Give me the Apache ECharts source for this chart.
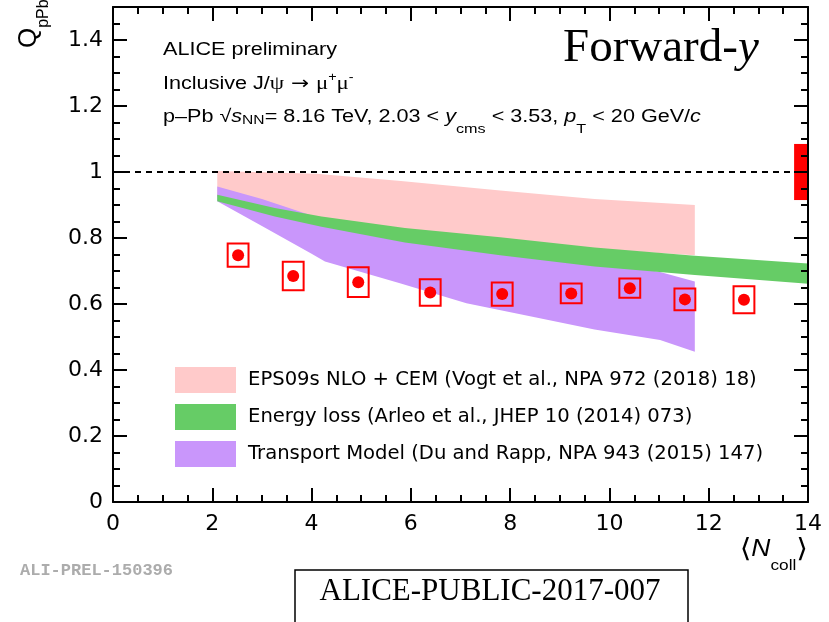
<!DOCTYPE html>
<html><head><meta charset="utf-8">
<script src="https://cdn.jsdelivr.net/npm/echarts@6/dist/echarts.min.js"></script>
<style>html,body{margin:0;padding:0;background:#fff}#c{width:829px;height:622px}</style>
</head><body><div id="c"></div>
<script>
// ---------- data ----------
const xTicks = [0, 2, 4, 6, 8, 10, 12, 14];
const yTicks = [0, 0.2, 0.4, 0.6, 0.8, 1, 1.2, 1.4];
const yMax = 1.5;

// ALICE data points
const ncoll  = [2.52, 3.63, 4.94, 6.39, 7.84, 9.23, 10.41, 11.52, 12.71];
const qppb   = [0.748, 0.685, 0.666, 0.635, 0.630, 0.632, 0.648, 0.614, 0.613];
const sysErr = [0.035, 0.043, 0.045, 0.040, 0.035, 0.030, 0.029, 0.033, 0.041];
const sysHalfWidth = 0.21;

// global uncertainty at unity
const globalX = 14, globalW = 0.28, globalCenter = 1, globalErr = 0.085;
const unityX = [0, 14];
const unityY = 1;

// EPS09s NLO + CEM band
const epsX  = [2.1, 4.1, 5.8, 7.8, 9.7, 11.72];
const epsLo = [0.925, 0.862, 0.826, 0.796, 0.767, 0.748];
const epsHi = [1.003, 0.995, 0.973, 0.944, 0.918, 0.900];

// Energy loss band
const elossX  = [2.1, 3.26, 4.2, 5.88, 7.8, 9.7, 11.72, 14];
const elossLo = [0.911, 0.865, 0.834, 0.786, 0.748, 0.714, 0.688, 0.661];
const elossHi = [0.931, 0.891, 0.865, 0.830, 0.802, 0.771, 0.746, 0.723];

// Transport model band
const transX  = [2.1, 3.0, 4.0, 4.27, 5.78, 7.12, 8.5, 9.7, 11.02, 11.72];
const transLo = [0.911, 0.836, 0.752, 0.729, 0.663, 0.602, 0.560, 0.523, 0.491, 0.455];
const transHi = [0.956, 0.918, 0.868, 0.855, 0.810, 0.780, 0.750, 0.730, 0.697, 0.668];

const modelNames = [
  'EPS09s NLO + CEM (Vogt et al., NPA 972 (2018) 18)',
  'Energy loss (Arleo et al., JHEP 10 (2014) 073)',
  'Transport Model (Du and Rapp, NPA 943 (2015) 147)'
];
const modelColors = ['#ffcaca', '#66cc66', '#c996fb'];

// ---------- chart ----------
const chart = echarts.init(document.getElementById('c'), null, {renderer: 'canvas'});
const xStep = xTicks[1] - xTicks[0];
const yStep = yTicks[1] - yTicks[0];
const axisFont = {fontFamily: '"DejaVu Sans", sans-serif', fontSize: 22, color: '#000'};

function band(name, xs, lo, hi, color, z) {
  return {
    name: name, type: 'custom', z: z, silent: true,
    itemStyle: {color: color},
    encode: {x: 0, y: [1, 2]},
    data: xs.map((x, i) => [x, lo[i], hi[i]]),
    renderItem: function (params, api) {
      if (params.dataIndex !== 0) return null;
      const pts = [];
      for (let i = 0; i < xs.length; i++) pts.push(api.coord([xs[i], hi[i]]));
      for (let i = xs.length - 1; i >= 0; i--) pts.push(api.coord([xs[i], lo[i]]));
      return {type: 'polygon', shape: {points: pts}, style: {fill: color}};
    }
  };
}

function xAxisDef(pos, labels) {
  return {
    type: 'value', position: pos, min: xTicks[0], max: xTicks[xTicks.length - 1], interval: xStep,
    z: 10,
    axisLine: {show: true, onZero: false, lineStyle: {color: '#000', width: 2}},
    axisTick: {show: true, inside: true, length: 14, lineStyle: {color: '#000', width: 2}},
    minorTick: {show: true, splitNumber: 4, length: 7, lineStyle: {color: '#000', width: 2}},
    splitLine: {show: false}, minorSplitLine: {show: false},
    axisLabel: labels ? Object.assign({show: true, margin: 11,
      formatter: v => String(xTicks.find(t => Math.abs(t - v) < 1e-9) ?? '')}, axisFont) : {show: false}
  };
}
function yAxisDef(pos, major, labels) {
  return {
    type: 'value', position: pos, min: yTicks[0], max: yMax,
    interval: major ? yStep : yStep / 4,
    z: 10,
    axisLine: {show: major, onZero: false, lineStyle: {color: '#000', width: 2}},
    axisTick: {show: true, inside: true, length: major ? 14 : 7, lineStyle: {color: '#000', width: 2}},
    splitLine: {show: false},
    axisLabel: labels ? Object.assign({show: true, margin: 10,
      formatter: v => { const t = yTicks.find(t => Math.abs(t - v) < 1e-9); return t === undefined ? '' : String(t); }}, axisFont) : {show: false}
  };
}

const sans = '"Liberation Sans", Arial, sans-serif';
const serif = '"Liberation Serif", "Times New Roman", serif';
const hdr = 18;
const richHdr = {
  n: {fontFamily: sans, fontSize: hdr, lineHeight: 22, color: '#000'},
  it: {fontFamily: sans, fontSize: hdr, lineHeight: 22, fontStyle: 'italic', color: '#000'},
  g: {fontFamily: serif, fontSize: hdr + 1, lineHeight: 22, color: '#000'},
  ar: {fontFamily: '"DejaVu Sans", sans-serif', fontSize: hdr, lineHeight: 22, color: '#000'},
  sup: {fontFamily: sans, fontSize: 12, lineHeight: 12, padding: [0, 0, 12, 0], color: '#000'},
  subA: {fontFamily: sans, fontSize: 13, lineHeight: 13, padding: [6, 0, 0, 0], color: '#000'},
  subB: {fontFamily: sans, fontSize: 13.5, lineHeight: 14, padding: [24, 0, 0, 0], color: '#000'}
};
const sx = 1.2;

const option = {
  animation: false,
  backgroundColor: '#fff',
  grid: {left: 113, right: 21, top: 7, bottom: 120, containLabel: false},
  xAxis: [xAxisDef('bottom', true), xAxisDef('top', false)],
  yAxis: [yAxisDef('left', true, true), yAxisDef('left', false, false),
          yAxisDef('right', true, false), yAxisDef('right', false, false)],
  legend: {
    show: true, orient: 'vertical', left: 170, top: 362,
    icon: 'rect', itemWidth: 61, itemHeight: 26, itemGap: 11, selectedMode: false,
    data: modelNames,
    textStyle: {fontFamily: '"DejaVu Sans", sans-serif', fontSize: 19.6, color: '#000', padding: [0, 0, 0, 7]}
  },
  series: [
    band(modelNames[0], epsX, epsLo, epsHi, modelColors[0], 1),
    band(modelNames[2], transX, transLo, transHi, modelColors[2], 2),
    band(modelNames[1], elossX, elossLo, elossHi, modelColors[1], 3),
    {
      type: 'line', z: 4, silent: true, symbol: 'none',
      data: unityX.map(x => [x, unityY]),
      lineStyle: {color: '#000', width: 2, type: [6, 5]}
    },
    {
      type: 'custom', z: 5, silent: true,
      data: [[globalX, globalCenter, globalErr]],
      renderItem: function (params, api) {
        const p1 = api.coord([api.value(0) - globalW, api.value(1) + api.value(2)]);
        const p2 = api.coord([api.value(0), api.value(1) - api.value(2)]);
        return {type: 'rect', shape: {x: p1[0], y: p1[1], width: p2[0] - p1[0], height: p2[1] - p1[1]},
                style: {fill: '#ff0000'}};
      }
    },
    {
      type: 'custom', z: 6, silent: true,
      data: ncoll.map((x, i) => [x, qppb[i], sysErr[i]]),
      renderItem: function (params, api) {
        const p1 = api.coord([api.value(0) - sysHalfWidth, api.value(1) + api.value(2)]);
        const p2 = api.coord([api.value(0) + sysHalfWidth, api.value(1) - api.value(2)]);
        return {type: 'rect', shape: {x: p1[0], y: p1[1], width: p2[0] - p1[0], height: p2[1] - p1[1]},
                style: {fill: 'none', stroke: '#ff0000', lineWidth: 2}};
      }
    },
    {
      type: 'scatter', z: 7, silent: true, symbol: 'circle', symbolSize: 12,
      itemStyle: {color: '#ff0000', opacity: 1},
      data: ncoll.map((x, i) => [x, qppb[i]])
    }
  ],
  graphic: [
    {type: 'text', x: 163, y: 50, scaleX: sx, z: 20, silent: true,
     style: {text: '{n|ALICE preliminary}', rich: richHdr, textAlign: 'left', textVerticalAlign: 'middle'}},
    {type: 'text', x: 163, y: 84, scaleX: sx, z: 20, silent: true,
     style: {text: '{n|Inclusive J/}{g|ψ}{ar| → }{g|μ}{sup|+}{g|μ}{sup|-}', rich: richHdr, textAlign: 'left', textVerticalAlign: 'middle'}},
    {type: 'text', x: 163, y: 117, scaleX: sx, z: 20, silent: true,
     style: {text: '{n|p–Pb √}{it|s}{subA|NN}{n|= 8.16 TeV, 2.03 < }{it|y}{subB|cms}{n| < 3.53, }{it|p}{subB|T}{n| < 20 GeV/}{it|c}',
             rich: richHdr, textAlign: 'left', textVerticalAlign: 'middle'}},
    {type: 'text', x: 563, y: 49, z: 20, silent: true,
     style: {text: '{a|Forward-}{b|y}', textAlign: 'left', textVerticalAlign: 'middle',
             rich: {a: {fontFamily: serif, fontSize: 47, color: '#0d990d'},
                    b: {fontFamily: serif, fontSize: 47, fontStyle: 'italic', color: '#0d990d'}}}},
    // y axis title
    {type: 'text', x: 29, y: 48, rotation: Math.PI / 2, z: 20, silent: true,
     style: {text: '{q|Q}{s|pPb}', textAlign: 'left', textVerticalAlign: 'middle',
             rich: {q: {fontFamily: sans, fontSize: 26, lineHeight: 26, color: '#000'},
                    s: {fontFamily: sans, fontSize: 16, lineHeight: 16, padding: [30, 0, 0, 0], color: '#000'}}}},
    // x axis title
    {type: 'text', x: 808, y: 550, scaleX: 1.15, z: 20, silent: true,
     style: {text: '{b|⟨}{it|N}{s|coll}{b|⟩}', textAlign: 'right', textVerticalAlign: 'middle',
             rich: {b: {fontFamily: '"DejaVu Sans", sans-serif', fontSize: 26, lineHeight: 30, color: '#000'},
                    it: {fontFamily: sans, fontSize: 23, lineHeight: 24, fontStyle: 'italic', color: '#000'},
                    s: {fontFamily: sans, fontSize: 15, lineHeight: 15, padding: [32, 0, 0, 0], color: '#000'}}}},
    // watermark
    {type: 'text', x: 20, y: 571, z: 20, silent: true,
     style: {text: 'ALI-PREL-150396', fontFamily: '"Liberation Mono", "DejaVu Sans Mono", monospace', fontWeight: 'bold',
             fontSize: 17, fill: '#acacac', textAlign: 'left', textVerticalAlign: 'middle'}},
    // public note box
    {type: 'rect', z: 20, silent: true, shape: {x: 295, y: 570, width: 393, height: 60},
     style: {fill: '#fff', stroke: '#000', lineWidth: 1.5}},
    {type: 'text', x: 490, y: 592, z: 21, silent: true,
     style: {text: 'ALICE-PUBLIC-2017-007', fontFamily: serif, fontSize: 31, fill: '#000',
             textAlign: 'center', textVerticalAlign: 'middle'}}
  ]
};
chart.setOption(option);
</script>
</body></html>
